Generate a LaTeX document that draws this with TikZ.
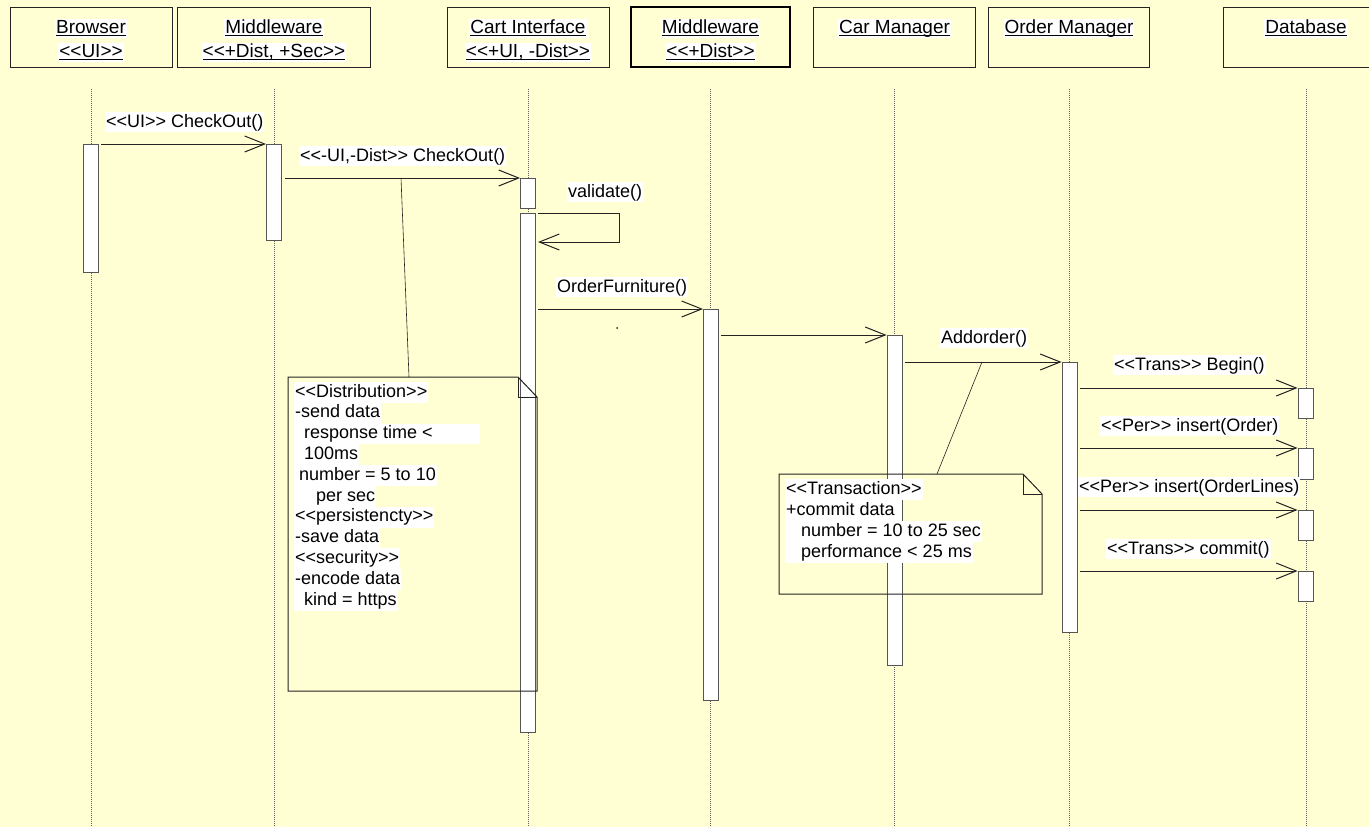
\documentclass[tikz,border=0pt]{standalone}
\usepackage{fontspec}
\setmainfont{Liberation Sans}
\usetikzlibrary{arrows.meta,calc}

\definecolor{paper}{RGB}{255,255,211}
\definecolor{ink}{RGB}{35,35,35}
\definecolor{barline}{RGB}{85,85,85}
\definecolor{lifeln}{RGB}{95,95,95}

% guillemet-free stereotype brackets (a kern keeps the TeX mapping from joining them)
\newcommand\LL{<\kern0pt<}
\newcommand\GG{>\kern0pt>}
% underline with a fixed offset below the baseline
\newcommand\ulx[1]{\setbox0=\hbox{#1}\rlap{\rule[-2.6pt]{\wd0}{1pt}}\box0}

\tikzset{
  hbox/.style={draw=ink, line width=1pt, minimum height=60pt, inner sep=0pt},
  htxt/.style={fill=white, inner xsep=1pt, inner ysep=0pt, text height=14pt, text depth=4.5pt,
               anchor=base, font=\fontsize{19}{21}\selectfont},
  bar/.style={draw=barline, fill=white, line width=1pt, minimum width=15pt, inner sep=0pt, anchor=north},
  life/.style={draw=lifeln, line width=0.8pt, dash pattern=on 1pt off 1pt},
  msg/.style={draw=ink, line width=1pt, -{Straight Barb[length=20pt,width=16pt,line width=1pt]}},
  lbl/.style={fill=white, inner xsep=1pt, inner ysep=1.5pt, anchor=base west},
  notetxt/.style={fill=white, inner xsep=1pt, inner ysep=0pt, text height=15pt, text depth=5.8pt, anchor=base west},
  notebox/.style={draw=ink, line width=1pt},
  pinline/.style={draw=ink, line width=0.6pt},
}

\begin{document}
\begin{tikzpicture}[x=1pt,y=-1pt,font=\fontsize{18}{21}\selectfont]
\useasboundingbox (0,0) rectangle (1369,827);
\clip (0,0) rectangle (1369,827);
\fill[paper] (0,0) rectangle (1369,827);

% object headers
\node[hbox, minimum width=162pt] (hB)   at (91,37)   {};
\node[hbox, minimum width=193pt] (hM1)  at (274,37)  {};
\node[hbox, minimum width=162pt] (hC)   at (528,37)  {};
\node[hbox, minimum width=159pt, draw=black, line width=2.5pt] (hM2) at (710.5,37) {};
\node[hbox, minimum width=162pt] (hCar) at (894.5,37) {};
\node[hbox, minimum width=161pt] (hO)   at (1069,37) {};
\node[hbox, minimum width=166pt] (hD)   at (1306,37) {};

\node[htxt] (tB1)   at (91,33)    {\ulx{Browser}};
\node[htxt] (tB2)   at (91,57)    {\ulx{\LL UI\GG}};
\node[htxt] (tM11)  at (274,33)   {\ulx{Middleware}};
\node[htxt] (tM12)  at (274,57)   {\ulx{\LL+Dist, +Sec\GG}};
\node[htxt] (tC1)   at (528,33)   {\ulx{Cart Interface}};
\node[htxt] (tC2)   at (528,57)   {\ulx{\LL+UI, -Dist\GG}};
\node[htxt] (tM21)  at (710.5,33) {\ulx{Middleware}};
\node[htxt] (tM22)  at (710.5,57) {\ulx{\LL+Dist\GG}};
\node[htxt] (tCar)  at (894.5,33) {\ulx{Car Manager}};
\node[htxt] (tO)    at (1069,33)  {\ulx{Order Manager}};
\node[htxt] (tD)    at (1306,33)  {\ulx{Database}};

% lifelines
\foreach \h in {hB,hM1,hC,hM2,hCar,hO,hD}
  \draw[life] (\h.south |- 0,89) -- (\h.south |- 0,827);

% activation bars
\node[bar, minimum height=128pt] (bB)   at (91,144)    {};
\node[bar, minimum height=96pt]  (bM1)  at (274,144)   {};
\node[bar, minimum height=30pt]  (bC1)  at (528,178)   {};
\node[bar, minimum height=519pt] (bC2)  at (528,213)   {};
\node[bar, minimum height=391pt] (bM2)  at (711,309)   {};
\node[bar, minimum height=330pt] (bCar) at (894.5,335) {};
\node[bar, minimum height=270pt] (bO)   at (1069.5,362) {};
\node[bar, minimum height=30pt]  (bD1)  at (1305.5,388) {};
\node[bar, minimum height=31pt]  (bD2)  at (1305.5,448) {};
\node[bar, minimum height=30pt]  (bD3)  at (1305.5,510) {};
\node[bar, minimum height=30pt]  (bD4)  at (1305.5,571) {};

% messages
\draw[msg] ([xshift=2pt]bB.north east) -- (bM1.north west);
\draw[msg] ([xshift=3pt]bM1.east |- bC1.north) -- (bC1.north west);
\coordinate (selfR) at (619,213);
\draw[msg] ([xshift=2pt]bC2.north east) -- (selfR) -- ++(0,29) -- ([xshift=2pt]bC2.east |- 0,242);
\draw[msg] ([xshift=2pt]bC2.east |- bM2.north) -- (bM2.north west);
\draw[msg] ([xshift=2pt]bM2.east |- bCar.north) -- (bCar.north west);
\draw[msg] ([xshift=2pt]bCar.east |- bO.north) -- (bO.north west);
\draw[msg] ([xshift=2pt]bO.east |- bD1.north) -- (bD1.north west);
\draw[msg] ([xshift=2pt]bO.east |- bD2.north) -- (bD2.north west);
\draw[msg] ([xshift=2pt]bO.east |- bD3.north) -- (bD3.north west);
\draw[msg] ([xshift=2pt]bO.east |- bD4.north) -- (bD4.north west);

% message labels
\node[lbl] (l1) at (105,127)  {\LL UI\GG{} CheckOut()};
\node[lbl] (l2) at (299,161)  {\LL-UI,-Dist\GG{} CheckOut()};
\node[lbl] (l3) at (567,197)  {validate()};
\node[lbl] (l4) at (556,292)  {OrderFurniture()};
\node[lbl] (l5) at (940,343)  {Addorder()};
\node[lbl] (l6) at (1113,370) {\LL Trans\GG{} Begin()};
\node[lbl] (l7) at (1100,431) {\LL Per\GG{} insert(Order)};
\node[lbl] (l8) at (1078,492) {\LL Per\GG{} insert(OrderLines)};
\node[lbl] (l9) at (1106,554) {\LL Trans\GG{} commit()};

\node[circle, fill=ink, inner sep=0pt, minimum size=2pt] (dot) at (617,328) {};

% distribution note
\draw[notebox] (288,377) -- (518,377) -- (537,397) -- (537,691) -- (288,691) -- cycle;
\draw[notebox] (518,377) -- (518,397) -- (537,397);
\coordinate (n1pin) at (401,178);
\coordinate (n1top) at (409,377);
\draw[pinline] (n1pin) -- (n1top);

\node[notetxt] (n1a) at (294,397)   {\LL Distribution\GG};
\node[notetxt] (n1b) at (294,417.8) {-send data};
\node[notetxt] (n1c) at (294,438.6) {\hspace*{9pt}response time <\hspace*{46pt}};
\node[notetxt] (n1d) at (294,459.4) {\hspace*{9pt}100ms};
\node[notetxt] (n1e) at (294,480.2) {\hspace*{4pt}number = 5 to 10};
\node[notetxt] (n1f) at (294,501)   {\hspace*{21pt}per sec};
\node[notetxt] (n1g) at (294,521.8) {\LL persistencty\GG};
\node[notetxt] (n1h) at (294,542.6) {-save data};
\node[notetxt] (n1i) at (294,563.4) {\LL security\GG};
\node[notetxt] (n1j) at (294,584.2) {-encode data};
\node[notetxt] (n1k) at (294,605)   {\hspace*{9pt}kind = https};

% transaction note
\draw[notebox] (779,474) -- (1023,474) -- (1042,494) -- (1042,594) -- (779,594) -- cycle;
\draw[notebox] (1023,474) -- (1023,494) -- (1042,494);
\coordinate (n2pin) at (982,362);
\coordinate (n2top) at (937,474);
\draw[pinline] (n2pin) -- (n2top);

\node[notetxt] (n2a) at (785,494) {\LL Transaction\GG};
\node[notetxt] (n2b) at (785,515) {+commit data\hspace*{6pt}};
\node[notetxt] (n2c) at (785,536) {\hspace*{15pt}number = 10 to 25 sec};
\node[notetxt] (n2d) at (785,557) {\hspace*{15pt}performance < 25 ms};
\end{tikzpicture}
\end{document}
